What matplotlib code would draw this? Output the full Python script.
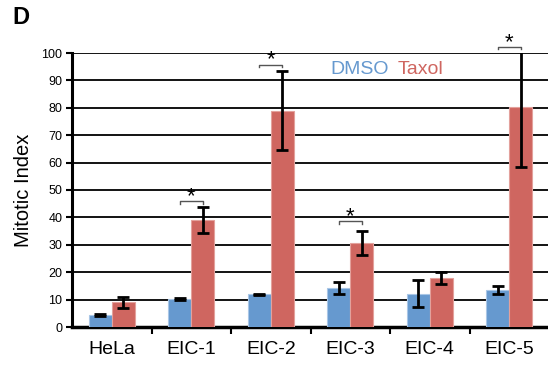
import numpy as np
import matplotlib.pyplot as plt

plt.rcParams['font.family'] = ['Liberation Sans', 'DejaVu Sans']

# mitotic index per cell line, mean and error
lines = ['HeLa', 'EIC-1', 'EIC-2', 'EIC-3', 'EIC-4', 'EIC-5']
dmso = [4.5, 10.3, 11.9, 14.2, 12.2, 13.5]
dmso_err = [0.4, 0.3, 0.3, 2.1, 5.0, 1.3]
taxol = [9.0, 39.0, 79.0, 30.7, 18.0, 80.3]
taxol_err = [2.0, 4.8, 14.5, 4.5, 2.2, 22.0]
# groups marked significant, and bracket height
sig_groups = [1, 2, 3, 5]
sig_y = [46.0, 95.8, 38.6, 102.3]

blue = '#6699CF'
red = '#CF6660'

fig = plt.figure(figsize=(5.48, 3.66), dpi=100)
ax = fig.add_axes([72 / 548, 39 / 366, 477 / 548, 274 / 366])

x = np.arange(len(lines))
w = 0.29
ax.bar(x - w / 2, dmso, w, color=blue, edgecolor='#a9c6e6', linewidth=0.8, zorder=3)
ax.bar(x + w / 2, taxol, w, color=red, edgecolor='#e3a19c', linewidth=0.8, zorder=3)
ax.errorbar(x - w / 2, dmso, yerr=dmso_err, fmt='none', ecolor='black',
            elinewidth=2, capsize=4, capthick=2, zorder=4)
ax.errorbar(x + w / 2, taxol, yerr=taxol_err, fmt='none', ecolor='black',
            elinewidth=2, capsize=4, capthick=2, zorder=4)

# significance brackets
for g, y in zip(sig_groups, sig_y):
    x0, x1 = g - w / 2, g + w / 2
    ax.plot([x0, x0, x1, x1], [y - 1.0, y, y, y - 1.0], color='#555555',
            lw=1.0, clip_on=False, zorder=5)
    ax.text(g, y - 2.2, '*', ha='center', va='bottom', fontsize=16,
            clip_on=False)

ax.set_xlim(-0.5, len(lines) - 0.5)
ax.set_ylim(0, 100)
ax.set_yticks(range(0, 101, 10))
ax.yaxis.grid(True, color='black', linewidth=1.3)
ax.set_axisbelow(True)
ax.tick_params(axis='y', labelsize=9, length=4, width=1.5, pad=3)

ax.set_xticks(x)
ax.set_xticklabels(lines)
ax.tick_params(axis='x', which='major', length=0, labelsize=14, pad=10)
ax.set_xticks(np.arange(0.5, len(lines) - 0.5), minor=True)
ax.tick_params(axis='x', which='minor', length=5, width=1.5)

for s in ['top', 'right']:
    ax.spines[s].set_visible(False)
ax.spines['left'].set_linewidth(2.2)
ax.spines['bottom'].set_linewidth(2.5)

ax.set_ylabel('Mitotic Index', fontsize=14.5, labelpad=6)

# legend as coloured words
fig.text(330 / 548, 1 - 69 / 366, 'DMSO', color=blue, fontsize=14,
         va='center', ha='left')
fig.text(398 / 548, 1 - 69 / 366, 'Taxol', color=red, fontsize=14,
         va='center', ha='left')

fig.text(12 / 548, 1 - 18 / 366, 'D', fontsize=17, fontweight='bold',
         va='center', ha='left')

fig.savefig('out.png', dpi=100)
